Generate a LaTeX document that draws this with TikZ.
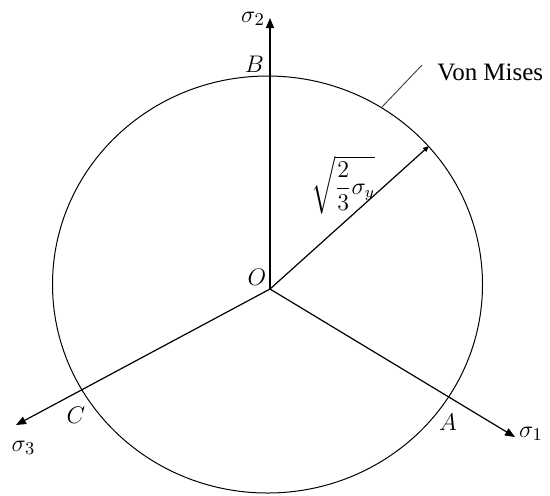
\documentclass[tikz,border=0pt]{standalone}
\usepackage{amsmath}
\usepackage{fontspec}
\setmainfont{Liberation Serif}
\usetikzlibrary{arrows.meta}

\begin{document}
\begin{tikzpicture}[x=0.5pt, y=-0.5pt, every node/.style={font=\fontsize{13}{15}\selectfont}, >={Triangle[length=5pt,width=4pt]}, axis/.style={->, line width=0.6pt}]
	\useasboundingbox (0,0) rectangle (550,495);
	\coordinate (O) at (270,289);
	\coordinate (S1) at (515,437);
	\coordinate (S2) at (270,18);
	\coordinate (S3) at (16,425);
	\coordinate (R) at (429,146);
	\coordinate (L1) at (382,107);
	\coordinate (L2) at (422,65);
	\draw[line width=0.5pt] (267.5,284.5) ellipse [x radius=215, y radius=208.5];
	\draw[axis] (O) -- (S1);
	\draw[axis] (O) -- (S2);
	\draw[axis] (O) -- (S3);
	\draw[->, line width=0.6pt, >={Triangle[length=3pt,width=2.5pt]}] (O) -- (R);
	\draw[black!70, line width=0.5pt] (L1) -- (L2);
	\node (s1) at (531,434) {$\sigma_1$};
	\node (s2) at (253,19) {$\sigma_2$};
	\node (s3) at (23.5,448) {$\sigma_3$};
	\node (o) at (257,277) {$O$};
	\node (a) at (448,422) {$A$};
	\node (b) at (254.5,64.5) {$B$};
	\node (c) at (76,415) {$C$};
	\node[font=\fontsize{12}{14}\selectfont] (r) at (343,185) {$\sqrt{\dfrac{2}{3}\sigma_y}$};
	\node[font=\fontsize{12.5}{15}\selectfont, anchor=base west, inner sep=0] (vm) at (437,80) {Von Mises};
\end{tikzpicture}
\end{document}
